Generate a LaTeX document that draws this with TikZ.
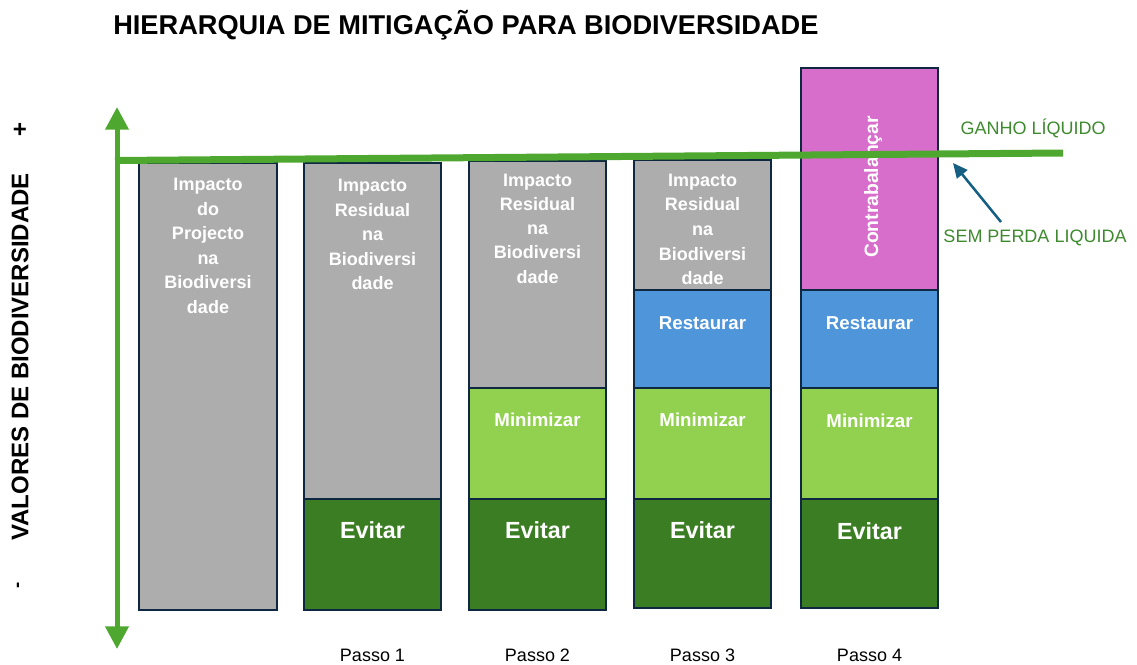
\documentclass[tikz,border=0pt]{standalone}
\usepackage{fontspec}
\setmainfont{Liberation Sans}
\usetikzlibrary{arrows.meta}
\definecolor{gris}{HTML}{ADADAD}
\definecolor{dgreen}{HTML}{3B7D23}
\definecolor{lgreen}{HTML}{92D050}
\definecolor{bblue}{HTML}{4E95D9}
\definecolor{magen}{HTML}{D86ECC}
\definecolor{navy}{HTML}{0E2841}
\definecolor{lineg}{HTML}{4EA72E}
\definecolor{txtg}{HTML}{3E8A2E}
\definecolor{teal}{HTML}{156082}
\begin{document}
\begin{tikzpicture}[x=0.75pt,y=-0.75pt,
  seg/.style={draw=navy, line width=1.5pt},
  bartext/.style={text=white, font=\bfseries\fontsize{13.5}{18.4}\selectfont, align=center, inner sep=0pt},
  segtext/.style={text=white, font=\bfseries\fontsize{14}{16}\selectfont, inner sep=0pt},
  evtext/.style={text=white, font=\bfseries\fontsize{17.5}{20}\selectfont, inner sep=0pt},
  passo/.style={font=\fontsize{13.5}{15}\selectfont, inner sep=0pt},
  gtext/.style={text=txtg, font=\fontsize{13.5}{16}\selectfont, inner sep=0pt}
]
\useasboundingbox (0,0) rectangle (1137,664);

% title
\node[anchor=west, font=\bfseries\fontsize{20.4}{24}\selectfont, inner sep=0pt] (title) at (113,25) {HIERARQUIA DE MITIGAÇÃO PARA BIODIVERSIDADE};

% y label
\node[rotate=90, font=\bfseries\fontsize{18}{20}\selectfont, inner sep=0pt] (ylab) at (20,357) {VALORES DE BIODIVERSIDADE};
\node[font=\bfseries\fontsize{18}{20}\selectfont, inner sep=0pt] (plus) at (20,130) {+};
\node[rotate=90, font=\bfseries\fontsize{14}{16}\selectfont, inner sep=0pt] (minus) at (20,585) {-};

% bar 1
\path[seg, fill=gris] (139,163) rectangle (277,610);
\node[bartext] (t1) at (208,246) {Impacto\\do\\Projecto\\na\\Biodiversi\\dade};

% bar 2
\path[seg, fill=gris] (304,163) rectangle (441,499);
\path[seg, fill=dgreen] (304,499) rectangle (441,610);
\node[bartext] (t2) at (372.5,234.5) {Impacto\\Residual\\na\\Biodiversi\\dade};
\node[evtext] (e2) at (372.5,530) {Evitar};

% bar 3
\path[seg, fill=gris] (469,161) rectangle (606,388);
\path[seg, fill=lgreen] (469,388) rectangle (606,499);
\path[seg, fill=dgreen] (469,499) rectangle (606,610);
\node[bartext, font=\bfseries\fontsize{13.5}{18.2}\selectfont] (t3) at (537.5,228.5) {Impacto\\Residual\\na\\Biodiversi\\dade};
\node[segtext] (m3) at (537.5,420) {Minimizar};
\node[evtext] (e3) at (537.5,530) {Evitar};

% bar 4
\path[seg, fill=gris] (634,160) rectangle (771,290);
\path[seg, fill=bblue] (634,290) rectangle (771,388);
\path[seg, fill=lgreen] (634,388) rectangle (771,499);
\path[seg, fill=dgreen] (634,499) rectangle (771,608);
\node[bartext, font=\bfseries\fontsize{13.5}{18.5}\selectfont] (t4) at (702.5,229.5) {Impacto\\Residual\\na\\Biodiversi\\dade};
\node[segtext] (r4) at (702.5,323) {Restaurar};
\node[segtext] (m4) at (702.5,420) {Minimizar};
\node[evtext] (e4) at (702.5,530) {Evitar};

% bar 5
\path[seg, fill=magen] (801,68) rectangle (938,290);
\path[seg, fill=bblue] (801,290) rectangle (938,388);
\path[seg, fill=lgreen] (801,388) rectangle (938,499);
\path[seg, fill=dgreen] (801,499) rectangle (938,608);
\node[segtext, rotate=90, font=\bfseries\fontsize{14.5}{16}\selectfont] (c5) at (873,187) {Contrabalançar};
\node[segtext] (r5) at (869.5,323) {Restaurar};
\node[segtext] (m5) at (869.5,421) {Minimizar};
\node[evtext] (e5) at (869.5,531) {Evitar};

% axis
\coordinate (atop) at (117,107);
\coordinate (abot) at (117,649);
\draw[lineg, line width=3.75pt, {Triangle[length=17pt,width=17pt]}-{Triangle[length=17pt,width=17pt]}] (atop) -- (abot);

% net line
\coordinate (lstart) at (115,160.5);
\coordinate (lend) at (1063,153);
\draw[lineg, line width=5.25pt] (lstart) -- (lend);

% labels right
\node[gtext] (ganho) at (1033,128) {GANHO LÍQUIDO};
\node[gtext] (sem) at (1035,238) {SEM PERDA LIQUIDA};
\coordinate (astart) at (1001,222);
\coordinate (aend) at (953,163);
\draw[teal, line width=1.9pt, -{Triangle[length=11pt,width=10pt]}] (astart) -- (aend);

% passo labels
\node[passo] (p1) at (372.5,655) {Passo 1};
\node[passo] (p2) at (537.5,655) {Passo 2};
\node[passo] (p3) at (702.5,655) {Passo 3};
\node[passo] (p4) at (869.5,655) {Passo 4};
\end{tikzpicture}
\end{document}
